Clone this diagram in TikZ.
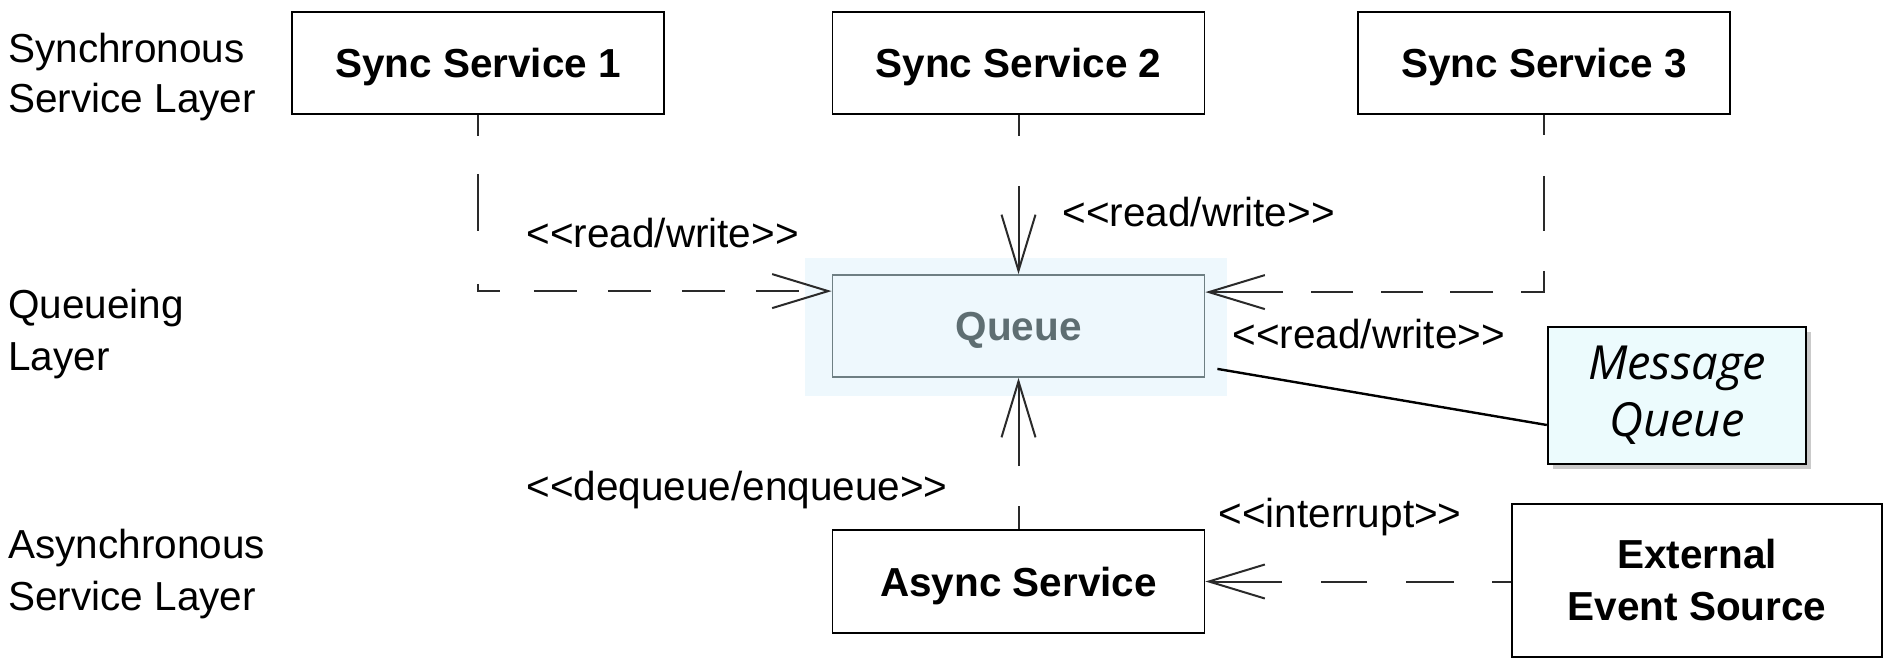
\documentclass[tikz,border=0pt]{standalone}
\usepackage{fontspec}
\setmainfont{Liberation Sans}
\newfontfamily\notefont{Open Sans}
\usetikzlibrary{arrows.meta,calc,shadows}
\definecolor{qfill}{HTML}{EEF8FD}
\definecolor{qline}{HTML}{6E7F83}
\definecolor{qtext}{HTML}{5E6E72}
\definecolor{nfill}{HTML}{ECFBFD}
\definecolor{conn}{HTML}{2A2A2A}
\newcommand\dlt{<\kern0pt<}
\newcommand\dgt{>\kern0pt>}
\begin{document}
\begin{tikzpicture}[x=0.5pt,y=-0.5pt,
  lbl/.style={font=\fontsize{20.25}{25}\selectfont, inner sep=0pt, anchor=base west},
  compbase/.style={draw=black, line width=0.9pt, inner sep=0pt,
    font=\fontsize{20.25}{26}\selectfont\bfseries, minimum width=186pt, minimum height=51pt},
  comp/.style={compbase, text height=14.6pt, text depth=0pt},
  dep/.style={draw=conn, line width=1pt, -{Straight Barb[length=28pt,width=17pt]}},
  notebox/.style={draw=black, line width=1.2pt, fill=nfill, inner sep=0pt,
    drop shadow={shadow xshift=2.5pt, shadow yshift=-2.5pt, fill=black!35, opacity=0.6},
    align=center, font=\notefont\fontsize{23.5}{28.5}\selectfont\itshape},
  noteline/.style={draw=black, line width=1.2pt}
]
\useasboundingbox (0,0) rectangle (1883,663);

% layer labels
\node[lbl] (l1a) at (8,63) {Synchronous};
\node[lbl] (l1b) at (8,113) {Service Layer};
\node[lbl] (l2a) at (8,318) {Queueing};
\node[lbl] (l2b) at (8,370) {Layer};
\node[lbl] (l3a) at (8,558) {Asynchronous};
\node[lbl] (l3b) at (8,610) {Service Layer};

% components
\node[comp] (s1) at (478,63) {Sync Service 1};
\node[comp] (s2) at (1018.5,63) {Sync Service 2};
\node[comp] (s3) at (1544,63) {Sync Service 3};
\node[fill=qfill, inner sep=0pt, minimum width=211pt, minimum height=69pt] (qhl) at (1016,327) {};
\node[comp, draw=qline, fill=qfill, text=qtext] (q) at (1018.5,326) {Queue};
\node[comp, minimum height=51.5pt] (as) at (1018.5,581.5) {Async Service};
\node[compbase, minimum width=185pt, minimum height=76.5pt, align=center] (ext) at (1697,580.5) {External\\Event Source};
\node[notebox, minimum width=129pt, minimum height=68.5pt] (n) at (1677,395.5) {Message\\Queue};

% connectors
\draw[dep, dash pattern=on 10.5pt off 19pt on 28.5pt off 26.5pt on 14.5pt off 17pt on 21.5pt off 15.5pt on 21.5pt off 15.5pt on 21.5pt off 15.5pt on 21.5pt off 15.5pt on 100pt]
  (s1.south) |- ($(q.north west)+(0,17)$);
\draw[dep, dash pattern=on 10.5pt off 25pt on 200pt] (s2.south) -- (q.north);
\draw[dep, dash pattern=on 10pt off 20.5pt on 27.5pt off 20pt on 22pt off 14pt on 21.5pt off 13.5pt on 21pt off 14pt on 21pt off 14pt on 100pt]
  (s3.south) |- ($(q.north east)+(0,18)$);
\draw[dep, dash pattern=on 11.5pt off 20pt on 200pt] (as.north) -- (q.south);
\draw[dep, dash pattern=on 9.5pt off 19pt on 24pt off 19.5pt on 23pt off 19.5pt on 200pt]
  (ext.west |- as.east) -- (as.east);
\draw[noteline] ($(q.south east)+(12,-9)$) -- ($(n.west)+(0,29.5)$);

% connector labels
\node[lbl] (rw1) at (526,248) {\dlt read/write\dgt};
\node[lbl] (rw2) at (1062,227) {\dlt read/write\dgt};
\node[lbl] (rw3) at (1232,348) {\dlt read/write\dgt};
\node[lbl] (deq) at (526,500) {\dlt dequeue/enqueue\dgt};
\node[lbl] (intr) at (1218,527) {\dlt interrupt\dgt};
\end{tikzpicture}
\end{document}
